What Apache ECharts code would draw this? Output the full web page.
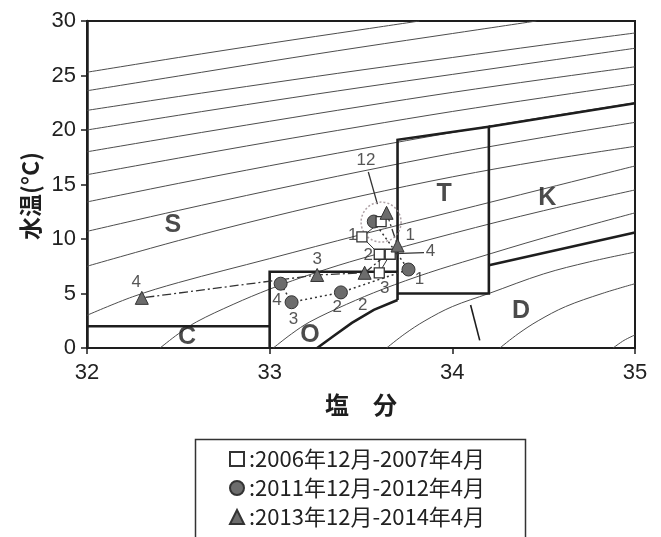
<!DOCTYPE html>
<html>
<head>
<meta charset="utf-8">
<script src="https://cdn.jsdelivr.net/npm/echarts@6/dist/echarts.min.js"></script>
<style>
  html, body { margin: 0; padding: 0; background: #fff; }
  #chart { width: 661px; height: 537px; }
</style>
</head>
<body>
<div id="chart"></div>
<script>
// Axis ticks: salinity (x) and water temperature (y)
const salinityTicks = [32, 33, 34, 35];
const tempTicks = [0, 5, 10, 15, 20, 25, 30];

// Isopycnals (sigma-t 21.0 to 28.0, step 0.5) as [salinity, temperature]
const iso210 = [[32, 25.3], [32.5, 26.65], [33, 27.95], [33.5, 29.2], [33.82, 30]];
const iso215 = [[32, 23.6], [32.5, 24.95], [33, 26.3], [33.5, 27.6], [34, 28.85], [34.46, 30]];
const iso220 = [[32, 21.8], [32.5, 23.07], [33, 24.3], [33.5, 25.5], [34, 26.65], [34.5, 27.8], [35, 28.9]];
const iso225 = [[32, 20.0], [32.5, 21.35], [33, 22.65], [33.5, 23.9], [34, 25.1], [34.5, 26.3], [35, 27.5]];
const iso230 = [[32, 18.0], [32.5, 19.42], [33, 20.8], [33.5, 22.15], [34, 23.45], [34.5, 24.65], [35, 25.8]];
const iso235 = [[32, 15.9], [32.5, 17.42], [33, 18.9], [33.5, 20.32], [34, 21.7], [34.5, 22.97], [35, 24.2]];
const iso240 = [[32, 13.4], [32.5, 15.1], [33, 16.72], [33.5, 18.27], [34, 19.77], [34.5, 21.17], [35, 22.5]];
const iso245 = [[32, 10.7], [32.5, 12.62], [33, 14.45], [33.5, 16.2], [34, 17.85], [34.5, 19.33], [35, 20.7]];
const iso250 = [[32, 7.5], [32.5, 9.85], [33, 12.0], [33.5, 13.95], [34, 15.7], [34.5, 17.2], [35, 18.5]];
const iso255 = [[32, 3.0], [32.25, 4.7], [32.5, 6.0], [33, 8.2], [33.5, 10.4], [34, 12.5], [34.5, 14.6], [35, 16.7]];
const iso260 = [[32.4, 0], [32.5, 1.3], [32.6, 2.4], [32.8, 4.0], [33, 5.4], [33.25, 6.9], [33.5, 8.2], [34, 10.5], [34.5, 12.6], [35, 14.5]];
const iso265 = [[33.02, 0], [33.12, 1.3], [33.22, 2.4], [33.42, 4.0], [33.62, 5.4], [33.87, 6.9], [34.12, 8.2], [34.5, 10.1], [35, 12.4]];
const iso270 = [[33.64, 0], [33.74, 1.3], [33.85, 2.5], [34.0, 3.8], [34.2, 5.0], [34.5, 6.8], [34.75, 7.9], [35, 8.8]];
const iso275 = [[34.26, 0], [34.36, 1.3], [34.47, 2.5], [34.62, 3.8], [34.82, 5.0], [35, 5.9]];
const iso280 = [[34.88, 0], [34.94, 0.7], [35, 1.2]];
const isopycnals = [iso210, iso215, iso220, iso225, iso230, iso235, iso240, iso245,
                    iso250, iso255, iso260, iso265, iso270, iso275, iso280];

// Water-mass boundaries
const boundaryC = [[32, 2.0], [33, 2.0]];
const boundaryOBox = [[33, 0], [33, 7.0], [33.7, 7.0]];
const boundaryOCurve = [[33.26, 0], [33.35, 1.1], [33.45, 2.3], [33.57, 3.5], [33.7, 4.4]];
const boundaryTBox = [[33.7, 4.4], [33.7, 19.1], [34.2, 20.3], [34.2, 5.0], [33.7, 5.0]];
const boundaryKTop = [[34.2, 20.3], [35, 22.45]];
const boundaryKBottom = [[34.2, 7.6], [35, 10.6]];
const boundaryD = [[34.10, 3.95], [34.15, 0.7]];
const boundaries = [boundaryC, boundaryOBox, boundaryOCurve, boundaryTBox, boundaryKTop, boundaryKBottom];

// Water-mass names
const massLabels = [['S', 32.47, 11.3], ['T', 33.955, 14.1], ['K', 34.52, 13.75],
                    ['D', 34.376, 3.4], ['C', 32.547, 1.0], ['O', 33.22, 1.2]];

// Observations, December then January to April
const name2006 = '2006年12月-2007年4月';
const name2011 = '2011年12月-2012年4月';
const name2013 = '2013年12月-2014年4月';
const obs2006 = [[33.61, 11.6], [33.505, 10.2], [33.6, 8.6], [33.6, 6.9], [33.66, 8.6]];
const obs2011 = [[33.57, 11.6], [33.76, 7.2], [33.39, 5.1], [33.12, 4.2], [33.06, 5.9]];
const obs2013 = [[33.64, 12.4], [33.70, 9.4], [33.52, 6.9], [33.26, 6.7], [32.30, 4.6]];

// Month numbers written beside the points
const monthLabels = [
  ['1', 33.455, 10.3], ['2', 33.54, 8.5], ['3', 33.63, 5.5], ['4', 33.88, 8.9],
  ['1', 33.82, 6.3], ['2', 33.37, 3.7], ['3', 33.13, 2.6], ['4', 33.04, 4.4],
  ['1', 33.77, 10.3], ['2', 33.51, 3.9], ['3', 33.26, 8.1], ['4', 32.27, 6.05],
  ['12', 33.527, 17.25]
];
const decemberCluster = [[33.61, 11.55]];
const leader12 = [[33.54, 16.15], [33.59, 13.2]];
const leader4 = [[33.685, 8.65], [33.845, 8.75]];

const ink = '#1e1e1e';
const markFill = '#6c6c6c';
const tickFont = '"Liberation Sans", Arial, sans-serif';
const cjkFont = '"Noto Sans CJK JP", sans-serif';

const thinLine = (data, z) => ({
  type: 'line', data, smooth: 0.35, symbol: 'none', silent: true, z: z || 1,
  lineStyle: { color: '#4d4d4d', width: 1 }
});
const thickLine = (data) => ({
  type: 'line', data, symbol: 'none', silent: true, z: 3,
  lineStyle: { color: ink, width: 2.6, join: 'miter' }
});
const pathLine = (data, type, width) => ({
  type: 'line', data, symbol: 'none', silent: true, z: 4,
  lineStyle: { color: '#333', width, type }
});

const series = [];
isopycnals.forEach(d => series.push(thinLine(d)));
boundaries.forEach(d => series.push(thickLine(d)));
series.push({ type: 'line', data: boundaryD, symbol: 'none', silent: true, z: 3,
              lineStyle: { color: ink, width: 1.6 } });
series.push(pathLine(obs2006, 'solid', 1));
series.push(pathLine(obs2011, [2, 3], 1.5));
series.push(pathLine(obs2013, [9, 3, 2, 3], 1.3));
series.push({ type: 'line', data: leader12, symbol: 'none', silent: true, z: 4,
              lineStyle: { color: '#333', width: 1.3 } });
series.push({ type: 'line', data: leader4, symbol: 'none', silent: true, z: 4,
              lineStyle: { color: '#333', width: 1.3 } });
series.push({
  type: 'scatter', data: decemberCluster, symbol: 'circle', symbolSize: 40, silent: true, z: 4,
  itemStyle: { color: 'rgba(0,0,0,0)', borderColor: '#9a8a90', borderWidth: 1.5, borderType: [2, 2] }
});
series.push({
  name: name2011, type: 'scatter', data: obs2011, symbol: 'circle', symbolSize: 13, z: 6,
  itemStyle: { color: markFill, borderColor: '#333', borderWidth: 1, opacity: 1 }
});
series.push({
  name: name2006, type: 'scatter', data: obs2006, symbol: 'rect', symbolSize: 10, z: 7,
  itemStyle: { color: '#fff', borderColor: '#333', borderWidth: 1.3, opacity: 1 }
});
series.push({
  name: name2013, type: 'scatter', data: obs2013, symbol: 'triangle', symbolSize: 13, z: 8,
  itemStyle: { color: markFill, borderColor: '#333', borderWidth: 1, opacity: 1 }
});
series.push({
  type: 'scatter', symbolSize: 0, silent: true, z: 9,
  data: monthLabels.map(([t, s, v]) => ({ name: t, value: [s, v] })),
  label: { show: true, position: 'inside', formatter: p => p.name,
           fontSize: 17, color: '#2a2a2a', fontFamily: tickFont }
});
series.push({
  type: 'scatter', symbolSize: 0, silent: true, z: 9,
  data: massLabels.map(([t, s, v]) => ({ name: t, value: [s, v] })),
  label: { show: true, position: 'inside', formatter: p => p.name,
           fontSize: 25, fontWeight: 'bold', color: ink, fontFamily: tickFont }
});

const chart = echarts.init(document.getElementById('chart'), null, { renderer: 'canvas' });
chart.setOption({
  animation: false,
  backgroundColor: '#fff',
  grid: { left: 87, right: 26, top: 21, bottom: 189, show: true,
          borderColor: ink, borderWidth: 2, backgroundColor: 'rgba(0,0,0,0)' },
  xAxis: {
    type: 'value', min: salinityTicks[0], max: salinityTicks[salinityTicks.length - 1],
    interval: salinityTicks[1] - salinityTicks[0],
    name: '塩　分', nameLocation: 'middle', nameGap: 45,
    nameTextStyle: { fontSize: 24, fontWeight: 'bold', color: ink, fontFamily: cjkFont },
    axisLine: { show: true, lineStyle: { color: ink, width: 2 } },
    axisTick: { show: true, inside: false, length: 6, lineStyle: { color: ink, width: 1.5 } },
    axisLabel: { margin: 14, fontSize: 22, color: '#222', fontFamily: tickFont },
    splitLine: { show: false }
  },
  yAxis: {
    type: 'value', min: tempTicks[0], max: tempTicks[tempTicks.length - 1],
    interval: tempTicks[1] - tempTicks[0],
    axisLine: { show: true, lineStyle: { color: ink, width: 2.5 } },
    axisTick: { show: true, inside: false, length: 6, lineStyle: { color: ink, width: 1.5 } },
    axisLabel: { margin: 11, fontSize: 22, color: '#222', fontFamily: tickFont },
    splitLine: { show: false }
  },
  legend: {
    orient: 'vertical', left: 229, top: 448, padding: 0, itemGap: 7,
    itemWidth: 14, itemHeight: 14, height: 89,
    selectedMode: false,
    data: [name2006, name2011, name2013],
    formatter: n => ':' + n,
    textStyle: { fontSize: 22, color: '#222', fontFamily: cjkFont }
  },
  graphic: [
    { type: 'rect', left: 193, top: 437, shape: { width: 330, height: 110 },
      style: { fill: 'none', stroke: '#333', lineWidth: 1.5 }, silent: true },
    { type: 'text', x: 30, y: 196, rotation: Math.PI / 2,
      style: { text: '水温(°C)', align: 'center', verticalAlign: 'middle',
               font: 'bold 23px "Noto Sans CJK JP", sans-serif', fill: ink }, silent: true }
  ],
  series
});
</script>
</body>
</html>
